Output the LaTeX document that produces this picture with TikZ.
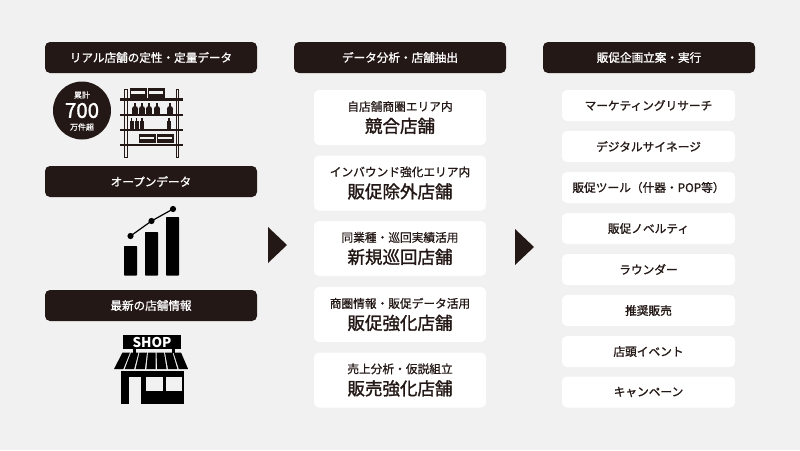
\documentclass[tikz,border=0pt]{standalone}
\usepackage{fontspec}
\setmainfont{Noto Sans CJK JP}
\definecolor{bgc}{HTML}{F1F1F1}
\definecolor{darkc}{HTML}{231815}
\definecolor{txtc}{HTML}{231815}
\tikzset{
  headbox/.style={fill=darkc,rounded corners=5pt,minimum width=212pt,minimum height=31pt,inner sep=0pt,text=white,font=\fontsize{11.6}{13}\selectfont\addfontfeature{FakeBold=1.2}},
  cardbox/.style={fill=white,rounded corners=5pt,inner sep=0pt,text=txtc,align=center},
  smallcard/.style={cardbox,minimum width=173pt,minimum height=31pt,font=\fontsize{11.7}{13}\selectfont\addfontfeature{FakeBold=1.2}},
  bigcard/.style={cardbox,minimum width=172pt,minimum height=55pt},
  flowtri/.style={fill=darkc,draw=none},
}
\newcommand{\cardtext}[2]{{\fontsize{11.7}{14}\selectfont\addfontfeature{FakeBold=0.8}#1}\\[5pt]{\fontsize{17.5}{20}\selectfont\addfontfeature{FakeBold=1.5}#2}}
\begin{document}
\begin{tikzpicture}[x=1pt,y=-1pt]
\fill[bgc] (0,0) rectangle (800,450);
\useasboundingbox (0,0) rectangle (800,450);
% headers
\node[headbox] (h1) at (151,57.5) {リアル店舗の定性・定量データ};
\node[headbox] (h2) at (151,181.5) {オープンデータ};
\node[headbox] (h3) at (151,305.5) {最新の店舗情報};
\node[headbox] (h4) at (400,57.5) {データ分析・店舗抽出};
\node[headbox] (h5) at (649,57.5) {販促企画立案・実行};
% circle badge
\fill[darkc] (82,110.5) circle (29);
\node[text=white,inner sep=0pt,font=\fontsize{8}{9}\selectfont\addfontfeature{FakeBold=0.4}] (b1) at (82,95) {累計};
\node[text=white,inner sep=0pt,font=\fontsize{20.5}{22}\selectfont\addfontfeature{FakeBold=1.5}] (b2) at (82,110.5) {700};
\node[text=white,inner sep=0pt,font=\fontsize{8}{9}\selectfont\addfontfeature{FakeBold=0.4}] (b3) at (82,127) {万件超};
% shelf
\begin{scope}
\draw[darkc,line width=1pt,fill=bgc] (124.3,89.5) rectangle (127,157);
\draw[darkc,line width=1pt,fill=bgc] (176,89.5) rectangle (178.7,157);
\foreach \yy in {99.5,115,130,145}{\fill[darkc] (119.5,\yy-1.4) rectangle (182.5,\yy+1.4);}
% boxes
\foreach \xx/\yy in {130/88,148/88,139/133.5,157/133.5}{
  \fill[darkc] (\xx,\yy) rectangle ++(16.5,9.8);
  \fill[bgc] (\xx+1.2,\yy+3) rectangle ++(14.1,2.6);
}
% round bottles
\foreach \xx in {135,142,149,157,170}{
  \fill[darkc] (\xx-0.9,103) rectangle (\xx+0.9,107);
  \fill[darkc] (\xx,109) circle (3.1);
  \fill[darkc] (\xx-3.1,109) rectangle (\xx+3.1,113.5);
}
% slim bottles
\foreach \xx in {131.5,136.5,142,169}{
  \fill[darkc] (\xx-0.8,118) rectangle (\xx+0.8,121);
  \fill[darkc] (\xx-2,121) rectangle (\xx+2,128.7);
}
\end{scope}
% chart
\foreach \xa/\ya in {124/246,145/232,166/217}{
  \fill[black,rounded corners=0.7pt] (\xa,\ya) rectangle (\xa+13,275.5);
}
\draw[black,line width=1.2pt] (130.5,236) -- (151.5,221) -- (173,209);
\foreach \xa/\ya in {130.5/236,151.5/221,173/209}{\fill[black] (\xa,\ya) circle (3.1);}
% shop
\fill[black] (123,335) rectangle (181,349);
\node[text=white,inner sep=0pt,font=\fontsize{13.5}{14}\selectfont\bfseries] (shop) at (152,342) {SHOP};
\fill[black] (133,349) rectangle (135.5,353);
\fill[black] (172,349) rectangle (174.5,353);
\foreach \i in {0,...,6}{
  \pgfmathsetmacro{\ta}{122.5+\i*8.5}
  \pgfmathsetmacro{\tb}{\ta+7.5}
  \pgfmathsetmacro{\ba}{114+\i*10.8}
  \pgfmathsetmacro{\bb}{\ba+9.3}
  \fill[black] (\ta,352.5) -- (\tb,352.5) -- (\bb,369) -- (\ba,369) -- cycle;
}
\fill[black] (121,371) rectangle (184,404);
\fill[bgc] (128.5,376.5) rectangle (141,404.5);
\fill[bgc] (146,377) rectangle (162.5,391);
\fill[bgc] (165.5,377) rectangle (182,391);
% arrows
\fill[flowtri] (268,227) -- (287,245) -- (268,263) -- cycle;
\fill[flowtri] (515,229) -- (534,247) -- (515,265) -- cycle;
% middle cards
\node[bigcard] (m1) at (400,117.5) {\cardtext{自店舗商圏エリア内}{競合店舗}};
\node[bigcard] (m2) at (400,183) {\cardtext{インバウンド強化エリア内}{販促除外店舗}};
\node[bigcard] (m3) at (400,248.5) {\cardtext{同業種・巡回実績活用}{新規巡回店舗}};
\node[bigcard] (m4) at (400,314.5) {\cardtext{商圏情報・販促データ活用}{販促強化店舗}};
\node[bigcard] (m5) at (400,380) {\cardtext{売上分析・仮説組立}{販売強化店舗}};
% right cards
\node[smallcard] (r1) at (648.5,105.5) {マーケティングリサーチ};
\node[smallcard] (r2) at (648.5,146.5) {デジタルサイネージ};
\node[smallcard] (r3) at (648.5,187.5) {販促ツール（什器・POP等）};
\node[smallcard] (r4) at (648.5,228.5) {販促ノベルティ};
\node[smallcard] (r5) at (648.5,269.5) {ラウンダー};
\node[smallcard] (r6) at (648.5,310.5) {推奨販売};
\node[smallcard] (r7) at (648.5,351.5) {店頭イベント};
\node[smallcard] (r8) at (648.5,392) {キャンペーン};
\end{tikzpicture}
\end{document}
